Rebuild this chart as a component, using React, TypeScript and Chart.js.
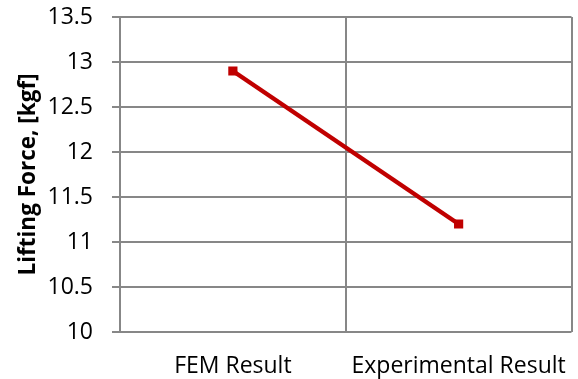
import React, { useEffect, useRef } from "react";
import { Chart, registerables } from "chart.js";

Chart.register(...registerables);

const categories = ["FEM Result", "Experimental Result"];
const liftingForce = [12.9, 11.2];
const yMin = 10;
const yMax = 13.5;
const yStep = 0.5;
const yTitle = "Lifting Force, [kgf]";

export default function App() {
  const ref = useRef<HTMLCanvasElement | null>(null);
  useEffect(() => {
    document.body.style.margin = "0";
    const ctx = ref.current!.getContext("2d")!;
    const chart = new Chart(ctx, {
      type: "line",
      data: {
        labels: categories,
        datasets: [
          {
            data: liftingForce,
            borderColor: "#C00000",
            backgroundColor: "#C00000",
            borderWidth: 4.5,
            pointStyle: "rect",
            pointRadius: 6.5,
            pointHoverRadius: 6.5,
            pointBorderWidth: 0,
            tension: 0,
          },
        ],
      },
      options: {
        animation: false,
        responsive: false,
        maintainAspectRatio: false,
        layout: { padding: { top: 17, right: 4, left: 13, bottom: 0 } },
        plugins: { legend: { display: false }, tooltip: { enabled: false } },
        scales: {
          x: {
            offset: true,
            grid: {
              offset: true,
              color: "#878787",
              lineWidth: 2,
              drawTicks: false,
            },
            border: { display: false },
            ticks: {
              color: "#000",
              padding: 21,
              font: { family: "Open Sans", size: 23 },
            },
            afterFit: (s: any) => {
              s.height = 379 - 332;
              s.paddingLeft = 0;
              s.paddingRight = 0;
            },
          },
          y: {
            min: yMin,
            max: yMax,
            grid: {
              color: "#878787",
              lineWidth: 2,
              drawTicks: true,
              tickLength: 8,
            },
            border: { display: false },
            ticks: {
              stepSize: yStep,
              color: "#000",
              padding: 19,
              font: { family: "Open Sans", size: 23 },
              callback: (v: any) => String(Number(v)),
            },
            title: {
              display: true,
              text: yTitle,
              color: "#000",
              font: { family: "Open Sans", size: 22.5, weight: "bold" },
              padding: 2,
            },
            afterFit: (s: any) => {
              s.width = 120 - 13;
              s.paddingTop = 0;
              s.paddingBottom = 0;
            },
          },
        },
      },
    });
    return () => chart.destroy();
  }, []);
  return (
    <div style={{ width: 578, height: 379 }}>
      <canvas ref={ref} width={578} height={379} style={{ display: "block" }} />
    </div>
  );
}
